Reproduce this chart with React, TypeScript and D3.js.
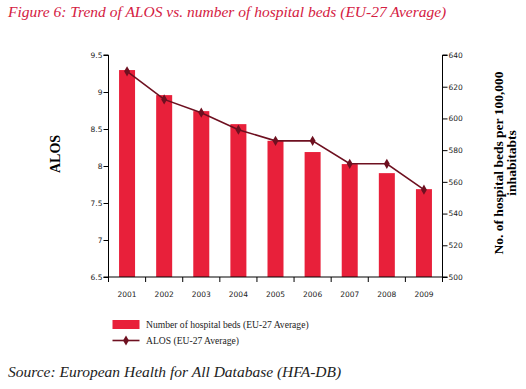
import { useRef, useEffect } from "react";
import * as d3 from "d3";

const years = ["2001", "2002", "2003", "2004", "2005", "2006", "2007", "2008", "2009"];
const beds = [630.5, 614.7, 604.6, 596.4, 585.9, 578.8, 571.2, 565.5, 555.4];
const alos = [9.28, 8.9, 8.72, 8.49, 8.34, 8.34, 8.03, 8.03, 7.68];
const alosTicks = [6.5, 7, 7.5, 8, 8.5, 9, 9.5];
const bedTicks = [500, 520, 540, 560, 580, 600, 620, 640];

const RED = "#e8203a";
const MAROON = "#6e1020";
const TITLE = "#d42042";

export default function App() {
  const svgRef = useRef<SVGSVGElement>(null);

  useEffect(() => {
    if (!svgRef.current) return;
    const svg = d3.select(svgRef.current);
    svg.selectAll("*").remove();

    const left = 108.5, right = 442.5, top = 55, bottom = 277;

    const x = d3.scaleBand().domain(years).range([left, right]).paddingInner(0).paddingOuter(0);
    const yL = d3.scaleLinear().domain([6.5, 9.5]).range([bottom, top]);
    const yR = d3.scaleLinear().domain([500, 640]).range([bottom, top]);

    svg.append("rect").attr("width", 526).attr("height", 389).attr("fill", "#fff");

    // title
    svg.append("text")
      .attr("x", 8).attr("y", 17)
      .attr("font-family", "Liberation Serif, serif")
      .attr("font-style", "italic")
      .attr("font-size", 15.5)
      .attr("fill", TITLE)
      .text("Figure 6: Trend of ALOS vs. number of hospital beds (EU-27 Average)");

    // bars
    const bw = 16;
    svg.append("g").selectAll("rect").data(years).join("rect")
      .attr("x", (d) => x(d)! + x.bandwidth() / 2 - bw / 2)
      .attr("y", (_, i) => yR(beds[i]))
      .attr("width", bw)
      .attr("height", (_, i) => bottom - yR(beds[i]))
      .attr("fill", RED);

    // line
    const line = d3.line<number>()
      .x((_, i) => x(years[i])! + x.bandwidth() / 2)
      .y((d) => yL(d));
    svg.append("path").datum(alos)
      .attr("d", line)
      .attr("fill", "none")
      .attr("stroke", MAROON)
      .attr("stroke-width", 1.6);
    const diamond = d3.symbol().type(d3.symbolDiamond).size(30);
    svg.append("g").selectAll("path").data(alos).join("path")
      .attr("d", diamond)
      .attr("transform", (d, i) => `translate(${x(years[i])! + x.bandwidth() / 2},${yL(d)})`)
      .attr("fill", MAROON);

    // left axis
    const gl = svg.append("g").attr("transform", `translate(${left},0)`)
      .call(d3.axisLeft(yL).tickValues(alosTicks).tickSize(5).tickPadding(1)
        .tickFormat((d) => String(d)));
    gl.select(".domain").attr("d", `M-5,${top}H0V${bottom}H-5`);

    // right axis
    const gr = svg.append("g").attr("transform", `translate(${right},0)`)
      .call(d3.axisRight(yR).tickValues(bedTicks).tickSize(5).tickPadding(1));
    gr.select(".domain").attr("d", `M5,${top}H0V${bottom}H5`);

    [gl, gr].forEach((g) => {
      g.selectAll("text").attr("font-family", "DejaVu Sans, sans-serif").attr("font-size", 7.5).attr("fill", "#222");
      g.selectAll("line,path").attr("stroke", "#000");
    });

    // bottom axis
    const gb = svg.append("g");
    gb.append("line").attr("x1", left).attr("x2", right).attr("y1", bottom).attr("y2", bottom).attr("stroke", "#000");
    const bounds = years.map((d) => x(d)!).concat([right]);
    gb.selectAll("line.t").data(bounds).join("line")
      .attr("class", "t")
      .attr("x1", (d) => d).attr("x2", (d) => d)
      .attr("y1", bottom).attr("y2", bottom + 5)
      .attr("stroke", "#000");
    gb.selectAll("text").data(years).join("text")
      .attr("x", (d) => x(d)! + x.bandwidth() / 2)
      .attr("y", bottom + 20)
      .attr("text-anchor", "middle")
      .attr("font-family", "DejaVu Sans, sans-serif")
      .attr("font-size", 7.5)
      .attr("fill", "#222")
      .text((d) => d);

    // axis titles
    svg.append("text")
      .attr("transform", `translate(60,154) rotate(-90)`)
      .attr("text-anchor", "middle")
      .attr("font-family", "Liberation Serif, serif")
      .attr("font-weight", "bold")
      .attr("font-size", 14)
      .text("ALOS");
    const rt = svg.append("text")
      .attr("transform", `translate(503,163) rotate(-90)`)
      .attr("text-anchor", "middle")
      .attr("font-family", "Liberation Serif, serif")
      .attr("font-weight", "bold")
      .attr("font-size", 13.5);
    rt.append("tspan").attr("x", 0).attr("dy", 0).text("No. of hospital beds per 100,000");
    rt.append("tspan").attr("x", 0).attr("dy", 13).text("inhabitabts");

    // legend
    const lg = svg.append("g").attr("font-family", "Liberation Serif, serif").attr("font-size", 9.6).attr("fill", "#222");
    lg.append("rect").attr("x", 112.5).attr("y", 320).attr("width", 27).attr("height", 9).attr("fill", RED);
    lg.append("text").attr("x", 146).attr("y", 327.5).text("Number of hospital beds (EU-27 Average)");
    lg.append("line").attr("x1", 112.5).attr("x2", 139.5).attr("y1", 340.5).attr("y2", 340.5)
      .attr("stroke", MAROON).attr("stroke-width", 1.6);
    lg.append("path").attr("d", diamond).attr("transform", "translate(126,340.5)").attr("fill", MAROON);
    lg.append("text").attr("x", 146).attr("y", 343.5).text("ALOS (EU-27 Average)");

    // source
    svg.append("text")
      .attr("x", 8).attr("y", 377)
      .attr("font-family", "Liberation Serif, serif")
      .attr("font-style", "italic")
      .attr("font-size", 15.5)
      .attr("fill", "#222")
      .text("Source: European Health for All Database (HFA-DB)");
  }, []);

  return <svg ref={svgRef} width={526} height={389} style={{ position: "absolute", left: 0, top: 0 }} />;
}
